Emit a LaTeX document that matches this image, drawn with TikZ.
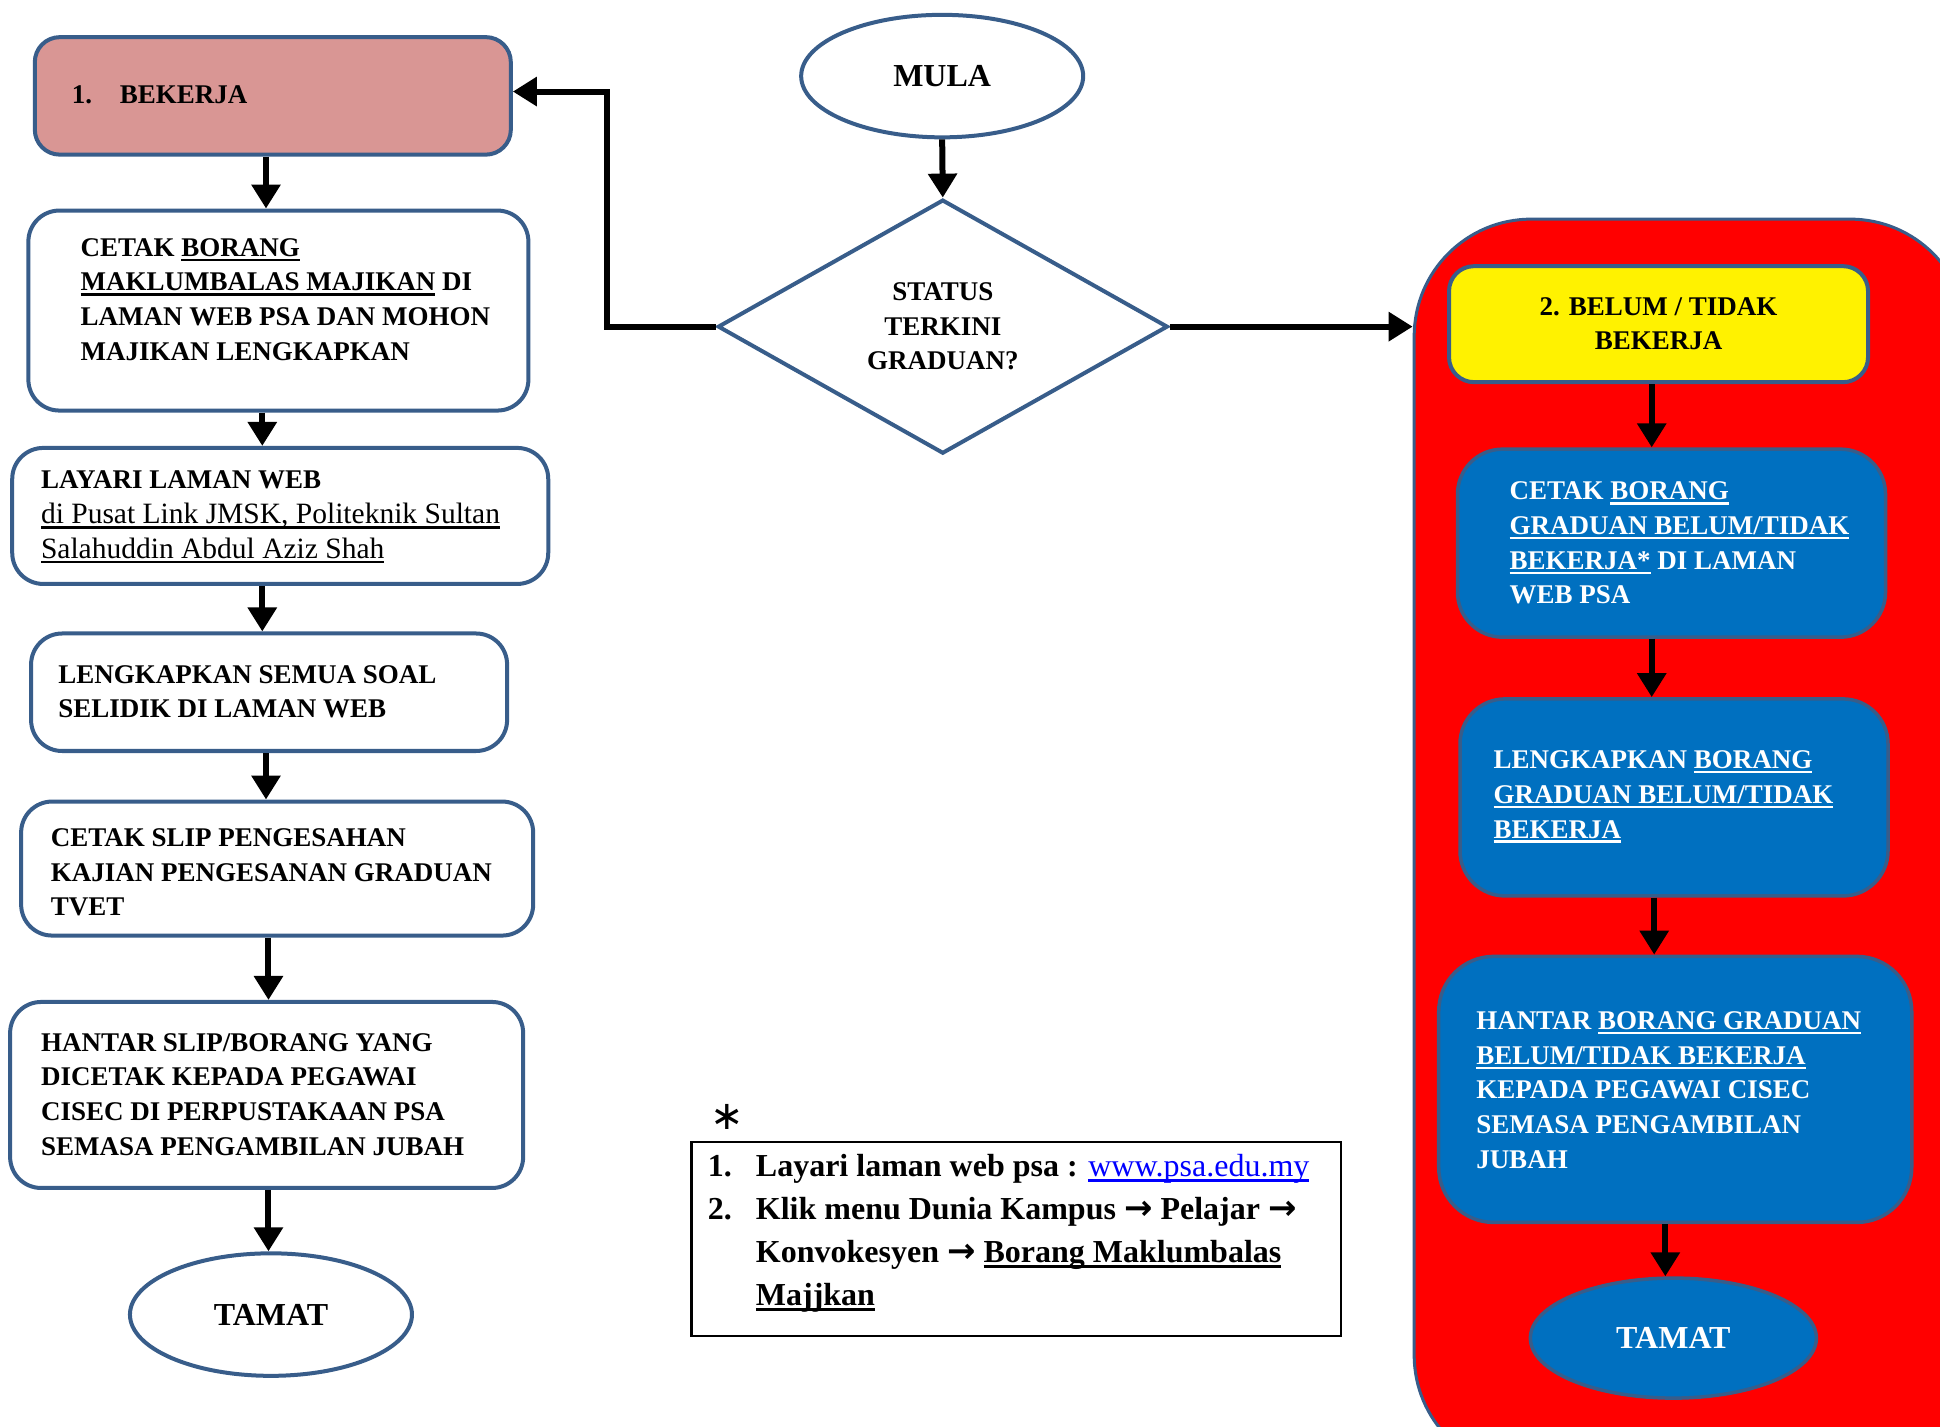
\documentclass[tikz,border=0pt]{standalone}
\usepackage{fontspec}
\setmainfont{Liberation Serif}
\newfontfamily\arrowfont{DejaVu Sans}
\usetikzlibrary{shapes.geometric,arrows.meta}
\definecolor{bord}{RGB}{56,93,138}
\definecolor{pinkfill}{RGB}{217,150,148}
\definecolor{bluefill}{RGB}{0,112,192}
\definecolor{linkblue}{RGB}{0,0,255}
\newsavebox\ulbox
\newcommand\uln[1]{\sbox\ulbox{#1}\rlap{\rule[-0.17em]{\wd\ulbox}{0.08em}}\usebox\ulbox}
\newcommand\rarr{{\arrowfont\bfseries\fontsize{34}{43}\selectfont →}}
\begin{document}
\begin{tikzpicture}[x=1.2372pt,y=-1.2372pt,
  pbox/.style={draw=bord,line width=4pt,rounded corners=31pt,fill=white,inner sep=0pt},
  bluebox/.style={pbox,fill=bluefill,line width=3.5pt,rounded corners=45pt},
  txt/.style={font=\fontsize{27}{34.6}\selectfont\bfseries,align=left,inner sep=0pt,anchor=west},
  term/.style={ellipse,draw=bord,line width=4pt,fill=white,minimum width=282pt,minimum height=122.5pt,inner sep=0pt,font=\fontsize{32}{36}\selectfont\bfseries},
  arr/.style={line width=6pt,-{Triangle[length=24pt,width=28pt]}}]
\path[use as bounding box] (0,0) rectangle (1568,1153);
\fill[white] (0,0) rectangle (1568,1153);
% container
\begin{scope}
\clip (0,0) rectangle (1568,1153);
\node[draw=bord,line width=3pt,fill=red,rounded corners=117pt,minimum width=553pt,minimum height=1253pt,inner sep=0pt] (cont) at (1366.5,683.5) {};
\end{scope}
% left column
\node[pbox,fill=pinkfill,rounded corners=25pt,minimum width=476pt,minimum height=117.5pt] (bek) at (220.5,77.5) {};
\node[txt] (bekt) at (58,77) {\makebox[48pt][l]{1.}BEKERJA};
\node[pbox,minimum width=500pt,minimum height=200pt] (cetak) at (225,251) {};
\node[txt] (cetakt) at (65,242) {CETAK \uln{BORANG}\\\uln{MAKLUMBALAS MAJIKAN} DI\\LAMAN WEB PSA DAN MOHON\\MAJIKAN LENGKAPKAN};
\node[pbox,minimum width=536pt,minimum height=136pt] (layari) at (226.5,417) {};
\node[txt] (layarit) at (33,418) {LAYARI LAMAN WEB\\{\mdseries\fontsize{29.5}{34.6}\selectfont\uln{di Pusat Link JMSK, Politeknik Sultan}}\\{\mdseries\fontsize{29.5}{34.6}\selectfont\uln{Salahuddin Abdul Aziz Shah}}};
\node[pbox,minimum width=476pt,minimum height=117.5pt] (lengkap) at (217.5,559.5) {};
\node[txt] (lengkapt) at (47,559) {LENGKAPKAN SEMUA SOAL\\SELIDIK DI LAMAN WEB};
\node[pbox,minimum width=512pt,minimum height=134pt] (slip) at (224,702) {};
\node[txt] (slipt) at (41,705) {CETAK SLIP PENGESAHAN\\KAJIAN PENGESANAN GRADUAN\\TVET};
\node[pbox,minimum width=513pt,minimum height=186pt] (hantar) at (215.5,885) {};
\node[txt] (hantart) at (33,884.5) {HANTAR SLIP/BORANG YANG\\DICETAK KEPADA PEGAWAI\\CISEC DI PERPUSTAKAAN PSA\\SEMASA PENGAMBILAN JUBAH};
\node[term] (tamatL) at (219,1062.5) {TAMAT};
% centre
\node[term] (mula) at (761.5,61.5) {MULA};
\node[diamond,draw=bord,line width=4pt,fill=white,aspect=1.77,minimum width=450pt,minimum height=254pt,inner sep=0pt,align=center,font=\fontsize{27}{34.6}\selectfont\bfseries] (dec) at (762,264) {STATUS\\TERKINI\\GRADUAN?};
% right column
\node[pbox,fill=yellow,rounded corners=25pt,minimum width=419pt,minimum height=116pt] (yel) at (1340.5,262) {};
\node[txt,anchor=center,align=center] (yelt) at (1340.5,261.5) {2. BELUM / TIDAK\\BEKERJA};
\node[bluebox,minimum width=428pt,minimum height=188pt] (b1) at (1351,439) {};
\node[txt,text=white] (b1t) at (1220,439) {CETAK \uln{BORANG}\\\uln{GRADUAN BELUM/TIDAK}\\\uln{BEKERJA*} DI LAMAN\\WEB PSA};
\node[bluebox,minimum width=428pt,minimum height=197pt] (b2) at (1353,644.5) {};
\node[txt,text=white] (b2t) at (1207,644) {LENGKAPKAN \uln{BORANG}\\\uln{GRADUAN BELUM/TIDAK}\\\uln{BEKERJA}};
\node[bluebox,minimum width=473pt,minimum height=266pt,rounded corners=55pt] (b3) at (1354,880.5) {};
\node[txt,text=white] (b3t) at (1193,881) {HANTAR \uln{BORANG GRADUAN}\\\uln{BELUM/TIDAK BEKERJA}\\KEPADA PEGAWAI CISEC\\SEMASA PENGAMBILAN\\JUBAH};
\node[term,fill=bluefill,text=white,minimum width=286pt,minimum height=120pt,line width=3.5pt] (tamatR) at (1352.5,1081.5) {TAMAT};
% footnote
\node[inner sep=0pt,font=\arrowfont\fontsize{40}{42}\selectfont] (star) at (587.5,903) {∗};
\node[draw=black,line width=2.5pt,minimum width=649.5pt,minimum height=194pt,inner sep=0pt] (note) at (821.5,1001.5) {};
\node[anchor=west,inner sep=0pt,align=left,font=\fontsize{32}{43}\selectfont\bfseries] (notet) at (572,996.5) {\makebox[48pt][l]{1.}Layari laman web psa : \textcolor{linkblue}{\mdseries\uln{www.psa.edu.my}}\\\makebox[48pt][l]{2.}Klik menu Dunia Kampus \rarr{} Pelajar \rarr\\\hspace*{48pt}Konvokesyen \rarr{} \uln{Borang Maklumbalas}\\\hspace*{48pt}\uln{Majjkan}};
% connectors
\coordinate (ca) at (215,0);
\coordinate (cb) at (212,0);
\coordinate (cc) at (217,0);
\coordinate (turn) at (491,74);
\coordinate (ra) at (1335,0);
\coordinate (rb) at (1337,0);
\coordinate (rc) at (1346,0);
\draw[arr] (mula.south) -- (dec.north);
\draw[arr] (dec.west) -| (turn) -- (turn -| bek.east);
\draw[arr] (dec.east) -- (dec.east -| cont.west);
\draw[arr] (bek.south -| ca) -- (cetak.north -| ca);
\draw[arr] (cetak.south -| cb) -- (layari.north -| cb);
\draw[arr] (layari.south -| cb) -- (lengkap.north -| cb);
\draw[arr] (lengkap.south -| ca) -- (slip.north -| ca);
\draw[arr] (slip.south -| cc) -- (hantar.north -| cc);
\draw[arr] (hantar.south -| cc) -- (tamatL.north -| cc);
\draw[arr] (yel.south -| ra) -- (b1.north -| ra);
\draw[arr] (b1.south -| ra) -- (b2.north -| ra);
\draw[arr] (b2.south -| rb) -- (b3.north -| rb);
\draw[arr] (b3.south -| rc) -- (tamatR.north -| rc);
\end{tikzpicture}
\end{document}
